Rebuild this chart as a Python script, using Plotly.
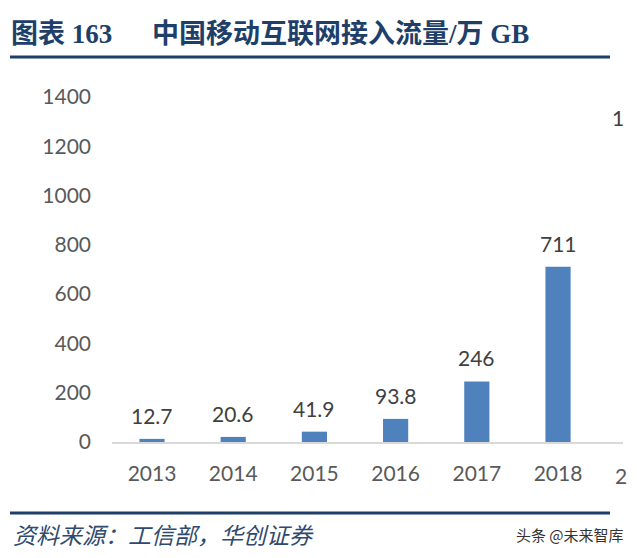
import plotly.graph_objects as go

years = ["2013", "2014", "2015", "2016", "2017", "2018"]
traffic = [12.7, 20.6, 41.9, 93.8, 246, 711]
labels = ["12.7", "20.6", "41.9", "93.8", "246", "711"]
y_ticks = [0, 200, 400, 600, 800, 1000, 1200, 1400]

W, H = 637, 558
NAVY = "#1F3F6B"
TXT = "#595959"
NUM_FONT = "Lato, Liberation Sans, sans-serif"
TITLE_FONT = "Liberation Serif, Noto Sans CJK SC"

fig = go.Figure()
fig.add_trace(go.Bar(x=list(range(len(years))), y=traffic, width=0.31, marker_color="#4F81BD",
                     marker_line_width=0, hoverinfo="skip"))

ann = []
for i, (v, t) in enumerate(zip(traffic, labels)):
    ann.append(dict(x=i, y=v, xref="x", yref="y", text=t, showarrow=False,
                    yanchor="bottom", yshift=9,
                    font=dict(family=NUM_FONT, size=21, color="#404040")))

# title
ann.append(dict(x=9 / W, y=1 - 34 / H, xref="paper", yref="paper", text="<b>图表 163</b>",
                xanchor="left", yanchor="middle", showarrow=False,
                font=dict(family=TITLE_FONT, size=27, color=NAVY)))
ann.append(dict(x=150 / W, y=1 - 34 / H, xref="paper", yref="paper",
                text="<b>中国移动互联网接入流量/万 GB</b>",
                xanchor="left", yanchor="middle", showarrow=False,
                font=dict(family=TITLE_FONT, size=27, color=NAVY)))
# footer
ann.append(dict(x=11 / W, y=1 - 534 / H, xref="paper", yref="paper",
                text="<i>资料来源：工信部，华创证券</i>",
                xanchor="left", yanchor="middle", showarrow=False,
                font=dict(family="Noto Sans CJK SC", size=23, color="#2F4A6E")))
ann.append(dict(x=626 / W, y=1 - 534 / H, xref="paper", yref="paper",
                text="头条 @未来智库",
                xanchor="right", yanchor="middle", showarrow=False,
                font=dict(family="Noto Sans CJK SC", size=15, color="#333333")))
# clipped fragments on the right edge
ann.append(dict(x=618 / W, y=1 - 117 / H, xref="paper", yref="paper", text="1",
                xanchor="center", yanchor="middle", showarrow=False,
                font=dict(family=NUM_FONT, size=21, color="#404040")))
ann.append(dict(x=621 / W, y=1 - 475 / H, xref="paper", yref="paper", text="2",
                xanchor="center", yanchor="middle", showarrow=False,
                font=dict(family=NUM_FONT, size=21, color=TXT)))

shapes = [
    dict(type="line", xref="paper", yref="paper", x0=10 / W, x1=610 / W,
         y0=1 - 57 / H, y1=1 - 57 / H, line=dict(color=NAVY, width=3)),
    dict(type="line", xref="paper", yref="paper", x0=10 / W, x1=610 / W,
         y0=1 - 513 / H, y1=1 - 513 / H, line=dict(color=NAVY, width=3)),
]

fig.update_layout(
    width=W, height=H,
    margin=dict(l=0, r=0, t=0, b=0, pad=0, autoexpand=False),
    paper_bgcolor="white", plot_bgcolor="white",
    showlegend=False,
    annotations=ann, shapes=shapes,
    xaxis=dict(domain=[112 / W, 623 / W], range=[-0.4926, 5.80],
               tickvals=list(range(len(years))), ticktext=years,
               showline=True, linecolor="#D9D9D9", linewidth=1.5, showgrid=False,
               zeroline=False, ticks="", ticklabelstandoff=12, automargin=False,
               tickfont=dict(family=NUM_FONT, size=21, color=TXT)),
    yaxis=dict(domain=[1 - 442 / H, 1 - 97 / H], range=[0, 1400],
               tickvals=y_ticks, ticktext=[str(v) for v in y_ticks],
               showline=False, showgrid=False, zeroline=False, ticks="",
               ticklabelstandoff=20, automargin=False,
               tickfont=dict(family=NUM_FONT, size=21, color=TXT)),
)

fig.write_html("out.html", config={"displayModeBar": False, "staticPlot": True},
               post_script="document.body.style.margin='0';document.body.style.padding='0';")
